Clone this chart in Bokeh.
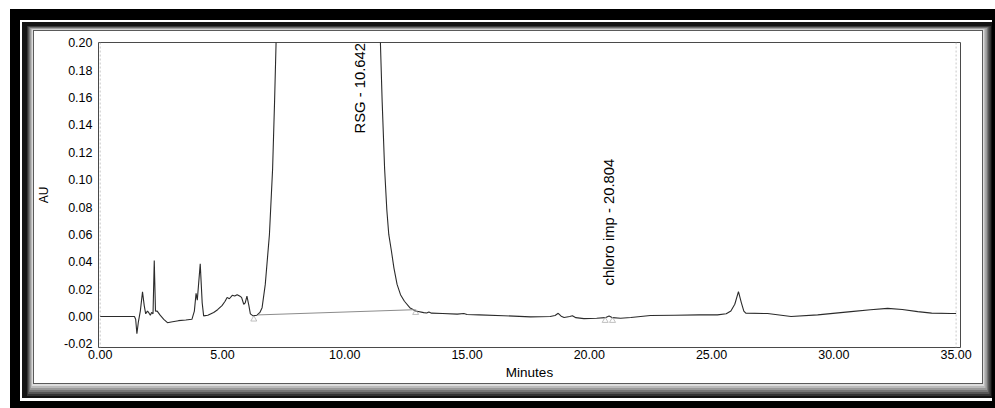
import numpy as np
from bokeh.plotting import figure
from bokeh.models import (Span, FixedTicker, NumeralTickFormatter,
                          Range1d, ColumnDataSource)
from bokeh.core.properties import value
from bokeh.embed import file_html
from bokeh.resources import INLINE

# ---------------- data ----------------
time_min = [0.00, 1.40, 1.45, 1.50, 1.56, 1.64, 1.73, 1.80, 1.86, 1.93, 1.98, 2.05,
            2.10, 2.16, 2.21, 2.26, 2.33, 2.45, 2.60, 2.75, 2.90, 3.20, 3.50, 3.75,
            3.85, 3.92, 3.97, 4.09, 4.17, 4.23, 4.40, 4.64, 4.80, 4.98, 5.10, 5.19,
            5.28, 5.40, 5.50, 5.60, 5.70, 5.78, 5.87, 5.93, 6.00, 6.08, 6.14, 6.25,
            6.41, 6.53, 6.62, 6.75, 6.92, 7.05, 7.13, 7.19, 7.25, 7.50, 8.00, 9.00,
            10.642, 11.00, 11.30, 11.42, 11.46, 11.53, 11.63, 11.72, 11.80, 11.91,
            12.01, 12.14, 12.28, 12.44, 12.66, 12.90, 13.23, 13.35, 13.44, 13.55,
            14.00, 14.60, 14.87, 15.00, 15.50, 16.50, 17.60, 18.40, 18.60, 18.73,
            18.85, 18.97, 19.20, 19.31, 19.45, 19.78, 20.30, 20.65, 20.81, 20.95,
            21.28, 21.70, 22.50, 23.50, 24.50, 25.24, 25.60, 25.79, 25.95, 26.10,
            26.22, 26.32, 26.40, 27.29, 28.25, 29.34, 30.70, 31.50, 32.20, 32.80,
            33.43, 34.00, 34.79, 35.00]
absorbance_au = [0.0000, 0.0000, -0.0020, -0.0125, -0.0040, 0.0040, 0.0180, 0.0080,
                 0.0020, 0.0040, 0.0030, 0.0010, 0.0030, 0.0020, 0.0410, 0.0040,
                 0.0040, 0.0010, -0.0020, -0.0045, -0.0040, -0.0030, -0.0025, -0.0020,
                 0.0040, 0.0170, 0.0120, 0.0385, 0.0100, 0.0005, 0.0010, 0.0030,
                 0.0050, 0.0080, 0.0110, 0.0140, 0.0130, 0.0155, 0.0150, 0.0160,
                 0.0150, 0.0140, 0.0090, 0.0100, 0.0150, 0.0080, 0.0020, 0.0005,
                 0.0010, 0.0030, 0.0065, 0.0235, 0.0600, 0.1080, 0.1570, 0.1990,
                 0.2500, 0.4500, 0.7500, 1.0500, 1.2500, 1.0500, 0.5500, 0.2500,
                 0.1990, 0.1570, 0.1080, 0.0780, 0.0600, 0.0477, 0.0356, 0.0235,
                 0.0160, 0.0112, 0.0065, 0.0041, 0.0029, 0.0026, 0.0034, 0.0025,
                 0.0022, 0.0018, 0.0022, 0.0015, 0.0012, 0.0006, -0.0002, 0.0000,
                 0.0008, 0.0024, 0.0003, -0.0007, 0.0000, 0.0006, -0.0008, -0.0015,
                 -0.0012, -0.0008, 0.0004, -0.0008, -0.0012, -0.0007, 0.0008, 0.0010,
                 0.0012, 0.0012, 0.0020, 0.0041, 0.0090, 0.0182, 0.0100, 0.0040,
                 0.0025, 0.0022, 0.0000, 0.0012, 0.0036, 0.0050, 0.0060, 0.0052,
                 0.0036, 0.0025, 0.0022, 0.0022]

baseline_time = [6.45, 12.85]
baseline_au = [0.0012, 0.0050]

marker_time = [6.28, 12.90, 20.65, 20.95]
marker_au = [-0.0020, 0.0028, -0.0030, -0.0030]

peak_labels = ["RSG - 10.642", "chloro imp - 20.804"]
peak_label_time = [10.642, 20.804]
peak_label_au = [0.1337, 0.0227]

run_limits = [0.0, 35.0]
x_ticks = [0.0, 5.0, 10.0, 15.0, 20.0, 25.0, 30.0, 35.0]
y_ticks = [-0.02, 0.00, 0.02, 0.04, 0.06, 0.08, 0.10, 0.12, 0.14, 0.16, 0.18, 0.20]

FONT = "Liberation Sans"

# ---------------- decorative picture frame via CSS inset shadows ----------------
# each ring: colour, band widths from the page edge (left, top, right, bottom)
frame_rings = [
    ("#ffffff", (10, 9, 0, 0)),
    ("#000000", (20, 20, 3, 7)),
    ("#ffffff", (22, 22, 3, 10)),
    ("#141414", (27, 26, 4, 12)),
    ("#333333", (28, 26.7, 5.3, 14)),
    ("#555555", (29, 27.3, 6.7, 16)),
    ("#777777", (30, 28, 8, 18)),
    ("#999999", (31, 28.7, 9.3, 20)),
    ("#bbbbbb", (32, 29.3, 10.7, 22)),
    ("#dddddd", (33, 30, 12, 24)),
    ("#5a5a5a", (34, 31, 13, 25)),
]


def ring_shadows(color, widths):
    L, T, R, B = widths
    s = min((L + R) / 2.0, (T + B) / 2.0)
    a = f"inset {L - s:.2f}px {T - s:.2f}px 0 {s:.2f}px {color}"
    b = f"inset {s - R:.2f}px {s - B:.2f}px 0 {s:.2f}px {color}"
    return [a, b]


shadows = []
for c, w in frame_rings:
    shadows += ring_shadows(c, w)

# ---------------- figure ----------------
p = figure(width=995, height=408, output_backend="svg", toolbar_location=None,
           x_range=Range1d(-0.07, 35.18), y_range=Range1d(-0.0226, 0.2002),
           min_border_left=98, min_border_right=35, min_border_top=42,
           min_border_bottom=61, background_fill_color="white",
           border_fill_color=None)
p.styles = {"background-color": "white", "box-shadow": ", ".join(shadows)}

p.xgrid.visible = False
p.ygrid.visible = False
p.outline_line_color = "#4a4a4a"
p.outline_line_width = 1

for rl in run_limits:
    p.add_layout(Span(location=rl, dimension="height", line_color="#c8c8c8",
                      line_width=1, line_dash="2 2", level="underlay"))

src = ColumnDataSource(dict(t=time_min, au=absorbance_au))
p.line("t", "au", source=src, line_color="#2b2b2b", line_width=1.1)

p.line(baseline_time, baseline_au, line_color="#8c8c8c", line_width=1)
p.scatter(marker_time, marker_au, marker="triangle", size=6, fill_color=None,
          line_color="#b0b0b0", line_width=0.8)

p.text(x=peak_label_time, y=peak_label_au, text=peak_labels, angle=np.pi / 2,
       text_align="left", text_baseline="middle", text_font=value(FONT),
       text_font_size="14.8px", text_color="black")

# axes
p.xaxis.ticker = FixedTicker(ticks=x_ticks)
p.yaxis.ticker = FixedTicker(ticks=y_ticks)
p.xaxis.formatter = NumeralTickFormatter(format="0.00")
p.yaxis.formatter = NumeralTickFormatter(format="0.00")
p.xaxis.axis_label = "Minutes"
p.yaxis.axis_label = "AU"
for ax in (p.xaxis, p.yaxis):
    ax.axis_line_color = None
    ax.major_tick_line_color = None
    ax.minor_tick_line_color = None
    ax.major_tick_out = 0
    ax.major_tick_in = 0
    ax.major_label_text_font = FONT
    ax.major_label_text_font_size = "12.5px"
    ax.major_label_text_color = "black"
    ax.axis_label_text_font = FONT
    ax.axis_label_text_font_style = "normal"
    ax.axis_label_text_color = "black"
p.xaxis.major_label_standoff = 2
p.yaxis.major_label_standoff = 6
p.xaxis.axis_label_text_font_size = "13.5px"
p.yaxis.axis_label_text_font_size = "12px"
p.xaxis.axis_label_standoff = 3
p.yaxis.axis_label_standoff = 10

open("out.html", "w").write(file_html(p, INLINE))
